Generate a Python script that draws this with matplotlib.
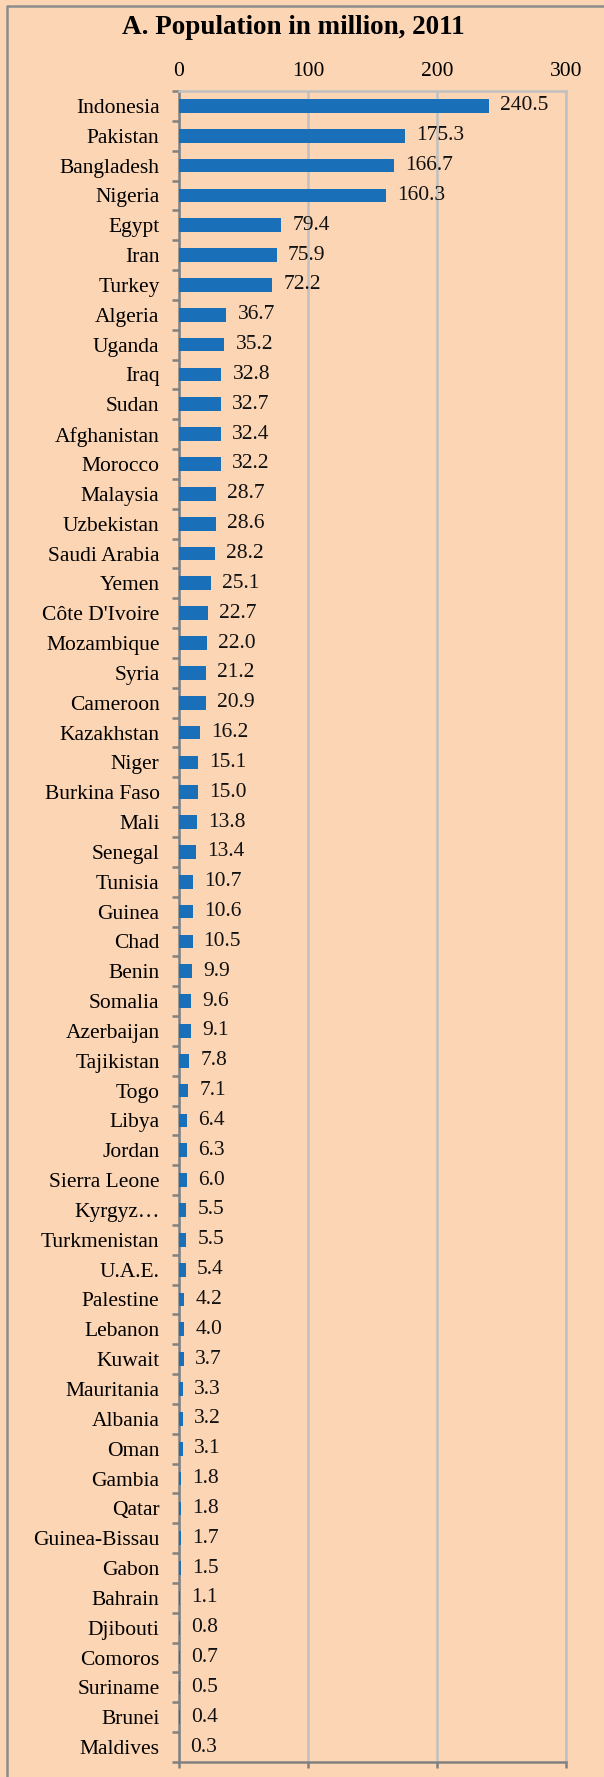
import matplotlib.pyplot as plt
from matplotlib.lines import Line2D
import numpy as np

countries = ['Indonesia', 'Pakistan', 'Bangladesh', 'Nigeria', 'Egypt', 'Iran', 'Turkey',
             'Algeria', 'Uganda', 'Iraq', 'Sudan', 'Afghanistan', 'Morocco', 'Malaysia',
             'Uzbekistan', 'Saudi Arabia', 'Yemen', "Côte D'Ivoire", 'Mozambique', 'Syria',
             'Cameroon', 'Kazakhstan', 'Niger', 'Burkina Faso', 'Mali', 'Senegal', 'Tunisia',
             'Guinea', 'Chad', 'Benin', 'Somalia', 'Azerbaijan', 'Tajikistan', 'Togo', 'Libya',
             'Jordan', 'Sierra Leone', 'Kyrgyz…', 'Turkmenistan', 'U.A.E.', 'Palestine',
             'Lebanon', 'Kuwait', 'Mauritania', 'Albania', 'Oman', 'Gambia', 'Qatar',
             'Guinea-Bissau', 'Gabon', 'Bahrain', 'Djibouti', 'Comoros', 'Suriname',
             'Brunei', 'Maldives']
population = [240.5, 175.3, 166.7, 160.3, 79.4, 75.9, 72.2, 36.7, 35.2, 32.8, 32.7, 32.4,
              32.2, 28.7, 28.6, 28.2, 25.1, 22.7, 22.0, 21.2, 20.9, 16.2, 15.1, 15.0, 13.8,
              13.4, 10.7, 10.6, 10.5, 9.9, 9.6, 9.1, 7.8, 7.1, 6.4, 6.3, 6.0, 5.5, 5.5, 5.4,
              4.2, 4.0, 3.7, 3.3, 3.2, 3.1, 1.8, 1.8, 1.7, 1.5, 1.1, 0.8, 0.7, 0.5, 0.4, 0.3]
xticks = [0, 100, 200, 300]

bg = '#fcd5b4'
fs = 15.5
plt.rcParams['font.family'] = ['Liberation Serif', 'DejaVu Serif']

W, H = 604, 1777
fig = plt.figure(figsize=(W / 100, H / 100), dpi=100, facecolor=bg)
# outer frame: only left and top edges are visible in the crop
fig.lines.append(Line2D([7 / W, 7 / W, 1.0], [0.0, 1 - 6 / H, 1 - 6 / H],
                        transform=fig.transFigure, color='#8c8c8c', linewidth=1.8))

ax = fig.add_axes([179 / W, 1 - 1762 / H, 387 / W, (1762 - 91) / H])
ax.set_facecolor(bg)

y = np.arange(len(countries))
ax.barh(y, population, height=0.46, color='#1a70b8', zorder=3)
for yi, v in zip(y, population):
    ax.annotate(f'{v:.1f}', (v, yi), xytext=(8, 0), textcoords='offset points',
                va='center', ha='left', fontsize=fs, color='#111111')

ax.set_ylim(len(countries) - 0.5, -0.5)
ax.set_xlim(0, 300)
ax.set_yticks(y)
ax.set_yticklabels(countries, fontsize=fs)
ax.set_yticks(np.arange(len(countries) + 1) - 0.5, minor=True)
ax.tick_params(axis='y', which='major', length=0, pad=14)
ax.tick_params(axis='y', which='minor', length=5, width=1.8, color='#808080', direction='out')

ax.set_xticks(xticks)
ax.xaxis.set_ticks_position('bottom')
ax.tick_params(axis='x', which='major', length=4, width=1.8, color='#808080',
               labelbottom=False, labeltop=True, labelsize=fs, pad=3)
ax.grid(axis='x', color='#c0c0c0', linewidth=1.8, zorder=0)

for side in ['left', 'bottom']:
    ax.spines[side].set_color('#808080')
    ax.spines[side].set_linewidth(1.8)
for side in ['top', 'right']:
    ax.spines[side].set_color('#c0c0c0')
    ax.spines[side].set_linewidth(1.8)

fig.text(293 / W, 1 - 27 / H, 'A. Population in million, 2011', ha='center', va='center',
         fontsize=19.5, fontweight='bold')

fig.savefig('out.png', dpi=100, facecolor=bg)
